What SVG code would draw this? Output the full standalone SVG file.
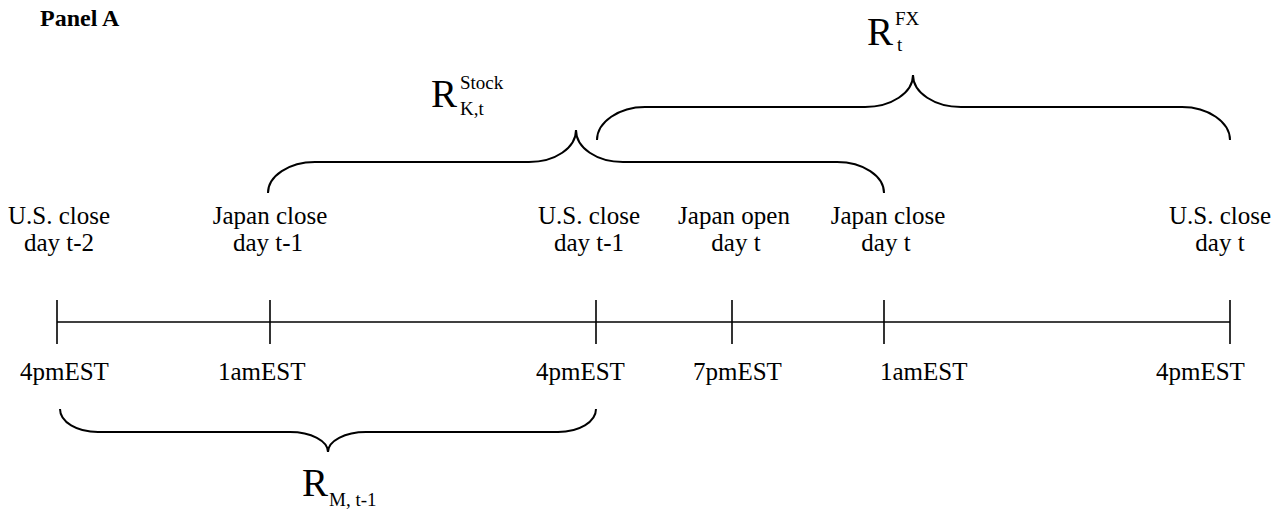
<svg xmlns="http://www.w3.org/2000/svg" width="1284" height="511" viewBox="0 0 1284 511">
<style>
.lbl{font-family:"Liberation Serif","Times New Roman",serif;font-size:25px;fill:#000;text-anchor:middle}
.time{font-family:"Liberation Serif","Times New Roman",serif;font-size:25px;fill:#000}
.title{font-family:"Liberation Serif","Times New Roman",serif;font-size:24px;font-weight:bold;fill:#000}
.big{font-family:"Liberation Serif","Times New Roman",serif;font-size:39px;fill:#000}
.small{font-family:"Liberation Serif","Times New Roman",serif;font-size:19px;fill:#000}
.ln{stroke:#000;stroke-width:1.6;fill:none}
.br{stroke:#000;stroke-width:2;fill:none}
</style>
<rect width="1284" height="511" fill="#fff"/>
<text class="title" x="40" y="26">Panel A</text>
<g id="timeline">
<line class="ln" x1="57" y1="322" x2="1230" y2="322"/>
</g>
<g id="t1"><line class="ln" x1="57" y1="300" x2="57" y2="344"/><text class="lbl" x="59" y="224">U.S. close</text><text class="lbl" x="59" y="251">day t-2</text><text class="time" x="20" y="380">4pmEST</text></g>
<g id="t2"><line class="ln" x1="270" y1="300" x2="270" y2="344"/><text class="lbl" x="270" y="224">Japan close</text><text class="lbl" x="268" y="251">day t-1</text><text class="time" x="218" y="380">1amEST</text></g>
<g id="t3"><line class="ln" x1="596" y1="300" x2="596" y2="344"/><text class="lbl" x="589" y="224">U.S. close</text><text class="lbl" x="589" y="251">day t-1</text><text class="time" x="536" y="380">4pmEST</text></g>
<g id="t4"><line class="ln" x1="732" y1="300" x2="732" y2="344"/><text class="lbl" x="734" y="224">Japan open</text><text class="lbl" x="736" y="251">day t</text><text class="time" x="693" y="380">7pmEST</text></g>
<g id="t5"><line class="ln" x1="884" y1="300" x2="884" y2="344"/><text class="lbl" x="888" y="224">Japan close</text><text class="lbl" x="886" y="251">day t</text><text class="time" x="880" y="380">1amEST</text></g>
<g id="t6"><line class="ln" x1="1230" y1="300" x2="1230" y2="344"/><text class="lbl" x="1220" y="224">U.S. close</text><text class="lbl" x="1220" y="251">day t</text><text class="time" x="1156" y="380">4pmEST</text></g>
<g id="connectors">
<path class="br" d="M60,409 C60,422 77,432 98,432 L290,432 C311,432 328,441 328,452 C328,441 345,432 366,432 L558,432 C579,432 596,422 596,409"/>
<path class="br" d="M268,193 C268,176 289,162 315,162 L529,162 C555,162 576,148 576,130 C576,148 597,162 623,162 L837,162 C863,162 884,176 884,193"/>
<path class="br" d="M597,140 C597,122 619,107 645,107 L865,107 C891,107 913,93 913,75 C913,93 935,107 961,107 L1182,107 C1208,107 1230,122 1230,140"/>
</g>
<g id="label-stock"><text class="big" x="431" y="107">R</text><text class="small" x="460" y="89">Stock</text><text class="small" x="460" y="115">K,t</text></g>
<g id="label-fx"><text class="big" x="867" y="45">R</text><text class="small" x="895" y="25">FX</text><text class="small" x="897" y="51">t</text></g>
<g id="label-m"><text class="big" x="302" y="496">R</text><text class="small" x="329" y="506">M, t-1</text></g>
</svg>
